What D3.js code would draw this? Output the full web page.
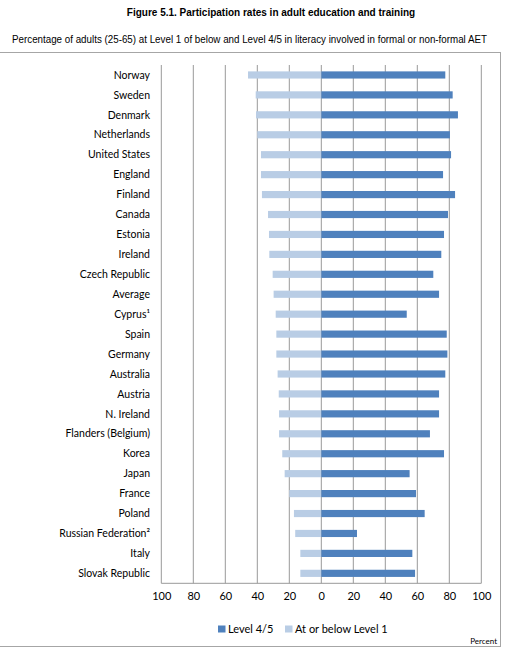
<!DOCTYPE html>
<html><head><meta charset="utf-8">
<script src="https://cdn.jsdelivr.net/npm/d3@7"></script>
<style>body{margin:0;background:#fff}svg{display:block}</style>
</head><body>
<script>
const categories = ["Norway","Sweden","Denmark","Netherlands","United States","England","Finland","Canada","Estonia","Ireland","Czech Republic","Average","Cyprus\u00B9","Spain","Germany","Australia","Austria","N. Ireland","Flanders (Belgium)","Korea","Japan","France","Poland","Russian Federation\u00B2","Italy","Slovak Republic"];
const level45 = [77.5,82.1,85.4,80.4,81.1,76.1,83.6,79.2,76.7,75.0,70.0,73.6,53.4,78.4,78.8,77.5,73.6,73.6,67.9,76.7,55.2,59.2,64.6,22.3,56.9,58.6];
const level1 = [45.8,41.0,40.8,40.0,37.7,37.7,37.1,33.3,32.7,32.5,30.4,29.8,28.5,28.1,28.1,27.3,26.6,26.4,26.4,24.4,22.9,20.0,17.1,16.3,13.1,13.1];
const tickValues = [-100,-80,-60,-40,-20,0,20,40,60,80,100];
const seriesNames = ["Level 4/5","At or below Level 1"];
const colors = ["#4F81BD","#B9CDE5"];

const W=521,H=654;
const svg=d3.select("body").append("svg").attr("width",W).attr("height",H);
const font="Lato, 'Open Sans', sans-serif";

svg.append("text").attr("x",271).attr("y",16).attr("text-anchor","middle")
  .attr("font-family","'Liberation Sans', Arial, sans-serif").attr("font-size",10).attr("font-weight","bold")
  .text("Figure 5.1. Participation rates in adult education and training");
svg.append("text").attr("x",12).attr("y",43)
  .attr("font-family","'Liberation Sans', Arial, sans-serif").attr("font-size",10)
  .attr("textLength",475).attr("lengthAdjust","spacingAndGlyphs")
  .text("Percentage of adults (25-65) at Level 1 of below and Level 4/5 in literacy involved in formal or non-formal AET");

// frame
svg.append("rect").attr("x",-2).attr("y",52.5).attr("width",502.5).attr("height",594)
  .attr("fill","none").attr("stroke","#a6a6a6").attr("stroke-width",1);

const x=d3.scaleLinear().domain([-100,100]).range([161.3,481.3]);
const y=d3.scaleBand().domain(categories).range([65,583.3]).paddingInner(0.64).paddingOuter(0.32);

// gridlines
svg.append("g").selectAll("line").data(tickValues).join("line")
  .attr("x1",d=>x(d)).attr("x2",d=>x(d)).attr("y1",65).attr("y2",583.3)
  .attr("stroke","#999").attr("stroke-width",1);

// bars
svg.append("g").selectAll("rect").data(categories).join("rect")
  .attr("x",(d,i)=>x(-level1[i])).attr("y",d=>y(d)).attr("width",(d,i)=>x(0)-x(-level1[i])).attr("height",y.bandwidth())
  .attr("fill",colors[1]);
svg.append("g").selectAll("rect").data(categories).join("rect")
  .attr("x",x(0)).attr("y",d=>y(d)).attr("width",(d,i)=>x(level45[i])-x(0)).attr("height",y.bandwidth())
  .attr("fill",colors[0]);

// axis line
svg.append("line").attr("x1",x(-100)).attr("x2",x(100)).attr("y1",583.3).attr("y2",583.3).attr("stroke","#999");

// category labels
svg.append("g").selectAll("text").data(categories).join("text")
  .attr("x",150).attr("y",d=>y(d)+y.bandwidth()/2).attr("dy","0.35em").attr("text-anchor","end")
  .attr("font-family",font).attr("font-size",10.5).attr("fill","#000").text(d=>d);

// tick labels
const axis=d3.axisBottom(x).tickValues(tickValues).tickFormat(d=>Math.abs(d)).tickSize(0).tickPadding(9);
const ag=svg.append("g").attr("transform","translate(0,583.3)").call(axis);
ag.select(".domain").remove();
ag.selectAll("text").attr("font-family",font).attr("font-size",11).attr("fill","#000");

// legend
const lg=svg.append("g");
const legendX=[218,285];
seriesNames.forEach((n,i)=>{
  lg.append("rect").attr("x",legendX[i]).attr("y",625.5).attr("width",7.5).attr("height",7).attr("fill",colors[i]);
  lg.append("text").attr("x",legendX[i]+10).attr("y",629).attr("dy","0.35em")
    .attr("font-family",font).attr("font-size",11).text(n);
});
svg.append("text").attr("x",497).attr("y",644).attr("text-anchor","end")
  .attr("font-family",font).attr("font-size",8).text("Percent");
</script>
</body></html>
